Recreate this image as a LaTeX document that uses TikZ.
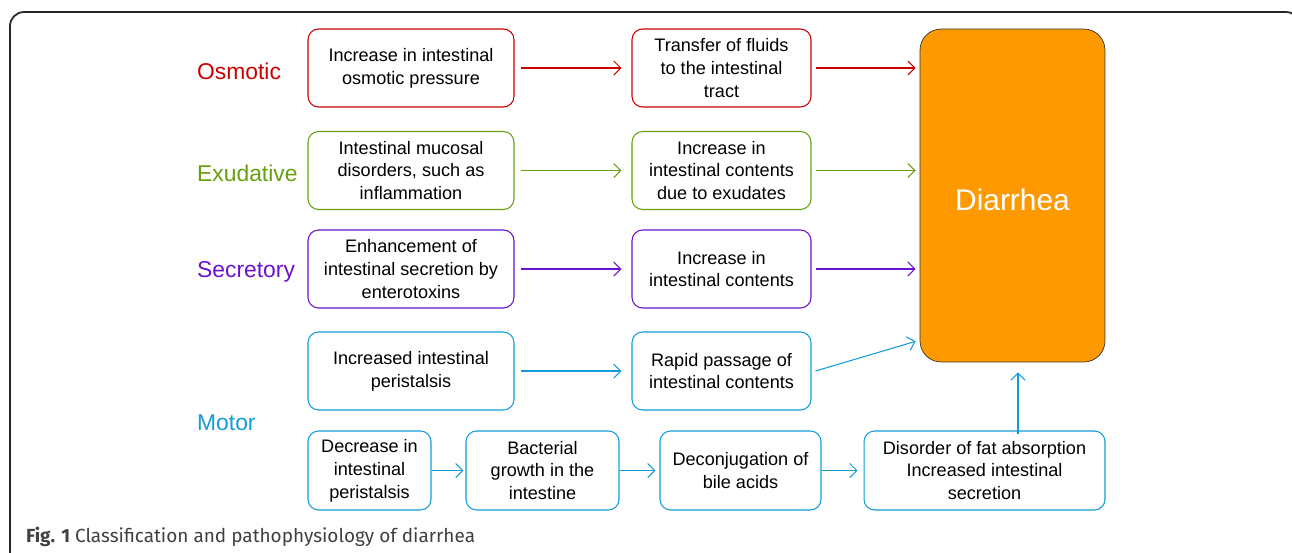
\documentclass[tikz,border=0pt]{standalone}
\usepackage{fontspec}
\setmainfont{Liberation Sans}
\newfontfamily\capfont{Fira Sans}
\usetikzlibrary{arrows.meta, positioning}
\definecolor{osmred}{HTML}{CC0000}
\definecolor{exugreen}{HTML}{66A010}
\definecolor{secpurple}{HTML}{6A12CC}
\definecolor{motblue}{HTML}{139CD6}
\definecolor{diaorange}{HTML}{FF9900}
\tikzset{
  stepbox/.style={draw=#1, rounded corners=6pt, line width=0.6pt, align=center,
                  inner sep=2pt, font=\fontsize{10.3}{13}\selectfont},
  flow/.style={draw=#1, line width=0.6pt, -{Straight Barb[length=4pt, width=8pt]}},
  kind/.style={text=#1, anchor=west, font=\fontsize{13}{15}\selectfont},
}
\begin{document}
\begin{tikzpicture}[x=0.02cm, y=-0.02cm]
    \useasboundingbox (0,0) rectangle (1292,552);
    % outer frame, cut at the page edge
    \begin{scope}
      \clip (0,0) rectangle (1292,552);
      \draw[line width=1pt, black!85, rounded corners=8pt]
        (10,570) -- (10,12) -- (1300,12) -- (1300,570);
    \end{scope}

    \node[draw=black!80, fill=diaorange, rounded corners=12pt,
          minimum width=3.7cm, minimum height=6.66cm,
          label={[text=white, font=\fontsize{17}{20}\selectfont, yshift=-2.5pt]center:Diarrhea}]
          (diarrhea) at (1012.5,195.5) {};

    % one row per kind
    \foreach \i/\clr/\lbl/\y/\ta/\tb in {
      1/osmred/Osmotic/68/{Increase in intestinal\\osmotic pressure}/{Transfer of fluids\\to the intestinal\\tract},
      2/exugreen/Exudative/170.5/{Intestinal mucosal\\disorders, such as\\inflammation}/{Increase in\\intestinal contents\\due to exudates},
      3/secpurple/Secretory/269/{Enhancement of\\intestinal secretion by\\enterotoxins}/{Increase in\\intestinal contents},
      4/motblue/{}/371/{Increased intestinal\\peristalsis}/{Rapid passage of\\intestinal contents}%
    }{
      \node[kind=\clr] (k\i) at (191,\y+3) {\lbl};
      \node[stepbox=\clr, minimum width=4.12cm, minimum height=1.56cm] (a\i) at (411,\y) {\ta};
      \node[stepbox=\clr, minimum width=3.58cm, minimum height=1.56cm] (b\i) at (721.5,\y) {\tb};
      \draw[flow=\clr] ([shift={(6,0)}]a\i.east) -- ([shift={(-10,0)}]b\i.west);
      \ifnum\i<4
        \draw[flow=\clr] ([shift={(4,0)}]b\i.east) -- ([shift={(-4,0)}]b\i.east -| diarrhea.west);
      \fi
    }
    \node[kind=motblue] (k5) at (191,423) {Motor};
    \draw[flow=motblue] ([shift={(4,0)}]b4.east) -- ([shift={(-4,-21)}]diarrhea.south west);

    % bottom chain
    \node[stepbox=motblue, minimum width=2.46cm, minimum height=1.58cm] (c1) at (369.5,470.5) {Decrease in\\intestinal\\peristalsis};
    \node[stepbox=motblue, minimum width=3.06cm, minimum height=1.58cm] (c2) at (542.5,470.5) {Bacterial\\growth in the\\intestine};
    \node[stepbox=motblue, minimum width=3.22cm, minimum height=1.58cm] (c3) at (740.5,470.5) {Deconjugation of\\bile acids};
    \node[stepbox=motblue, minimum width=4.82cm, minimum height=1.58cm] (c4) at (984.5,470.5) {Disorder of fat absorption\\Increased intestinal\\secretion};
    \draw[flow=motblue] (c1.east) -- ([shift={(-2,0)}]c2.west);
    \draw[flow=motblue] (c2.east) -- ([shift={(-4,0)}]c3.west);
    \draw[flow=motblue] (c3.east) -- ([shift={(-6,0)}]c4.west);
    \draw[flow=motblue] ([shift={(33.5,4)}]c4.north) -- ++(0,-62);

    \node[anchor=west, text=black!75, font=\capfont\fontsize{10.8}{13}\selectfont] (cap) at (20,537)
      {\textbf{Fig. 1} Classification and pathophysiology of diarrhea};
\end{tikzpicture}
\end{document}
